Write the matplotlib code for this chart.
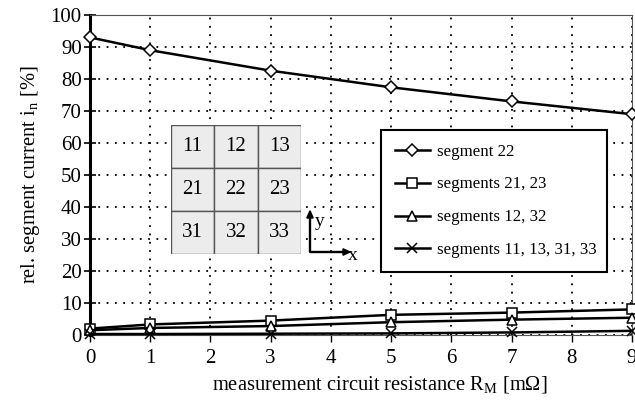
import matplotlib
matplotlib.use("Agg")
import matplotlib.pyplot as plt
from matplotlib.patches import Rectangle, FancyArrow

plt.rcParams['font.family'] = ['Liberation Serif', 'DejaVu Serif']
plt.rcParams['mathtext.fontset'] = 'custom'
plt.rcParams['mathtext.rm'] = 'Liberation Serif'

# measurement circuit resistance (mOhm)
r_m = [0, 1, 3, 5, 7, 9]

# relative segment current (%)
seg_22 = [93.0, 89.0, 82.6, 77.4, 73.0, 69.0]
seg_21_23 = [2.0, 3.3, 4.5, 6.3, 7.0, 8.0]
seg_12_32 = [1.5, 2.2, 2.8, 4.0, 4.8, 5.4]
seg_corners = [0.3, 0.3, 0.4, 0.5, 0.8, 1.3]

labels = ["segment 22", "segments 21, 23", "segments 12, 32", "segments 11, 13, 31, 33"]
marcadores = ["D", "s", "^", "x"]
celdas = [["11", "12", "13"], ["21", "22", "23"], ["31", "32", "33"]]

fig = plt.figure(figsize=(6.35, 4.0), dpi=100)
ax = fig.add_axes([90/635, 1-335/400, 542/635, 320/400])

series = [seg_22, seg_21_23, seg_12_32, seg_corners]
for datos, m, lab in zip(series, marcadores, labels):
    ms = 6.5 if m == "D" else 7.5
    ax.plot(r_m, datos, color='black', lw=1.8, marker=m, markersize=ms,
            markerfacecolor='white', markeredgecolor='black', markeredgewidth=1.1,
            label=lab, zorder=3, clip_on=False)

ax.set_xlim(0, 9)
ax.set_ylim(0, 100)
ax.set_xticks(range(0, 10))
ax.set_yticks(range(0, 101, 10))
ax.grid(True, color='black', linestyle=(0, (1, 3.6)), linewidth=1.3)
ax.tick_params(axis='y', direction='inout', length=8, width=1.2, labelsize=15, pad=2)
ax.tick_params(axis='x', direction='out', length=5, width=1, labelsize=15, pad=5)

ax.spines['left'].set_linewidth(2.2)
for s in ['top', 'right', 'bottom']:
    ax.spines[s].set_color('#555555')
    ax.spines[s].set_linewidth(0.8)

ax.set_ylabel("rel. segment current i$_\\mathregular{n}$ [%]", fontsize=14.8, labelpad=6)
ax.set_xlabel("measurement circuit resistance R$_\\mathregular{M}$ [m\u03a9]", fontsize=14.8, labelpad=4)
# el original esta recortado a la derecha, la etiqueta queda corrida
ax.xaxis.set_label_coords((380-90)/542, -0.125)

# leyenda en la caja 381-607 x 130-258 px
leg = ax.legend(loc='upper left', bbox_to_anchor=((381-90)/542, (335-258)/320, 226/542, 128/320),
                mode='expand', fontsize=12.2, frameon=True, fancybox=False, edgecolor='black',
                handlelength=2.1, handletextpad=0.4, labelspacing=1.0, borderpad=0.8,
                borderaxespad=0)
leg.get_frame().set_linewidth(1.5)
leg.get_frame().set_alpha(1)

# esquema de segmentos
ins = fig.add_axes([171/635, 1-254/400, 130/635, 129/400])
ins.set_xlim(0, 3)
ins.set_ylim(0, 3)
ins.axis('off')
for i in range(3):
    for j in range(3):
        ins.add_patch(Rectangle((j, 2-i), 1, 1, facecolor='#ececec', edgecolor='#555555', lw=1.0))
        ins.text(j+0.5, 2-i+0.5, celdas[i][j], ha='center', va='center', fontsize=15)

# ejes x / y
fig.patches.append(FancyArrow(310/635, 1-252/400, 0, 34/400, width=0.0015,
                   head_width=0.010, head_length=0.018, color='black', transform=fig.transFigure))
fig.patches.append(FancyArrow(310/635, 1-252/400, 33/635, 0, width=0.0025,
                   head_width=0.016, head_length=0.011, color='black', transform=fig.transFigure))
fig.text(315/635, 1-221/400, "y", fontsize=14, ha='left', va='center')
fig.text(348/635, 1-256/400, "x", fontsize=14, ha='left', va='center')

fig.savefig("out.png", dpi=100)
